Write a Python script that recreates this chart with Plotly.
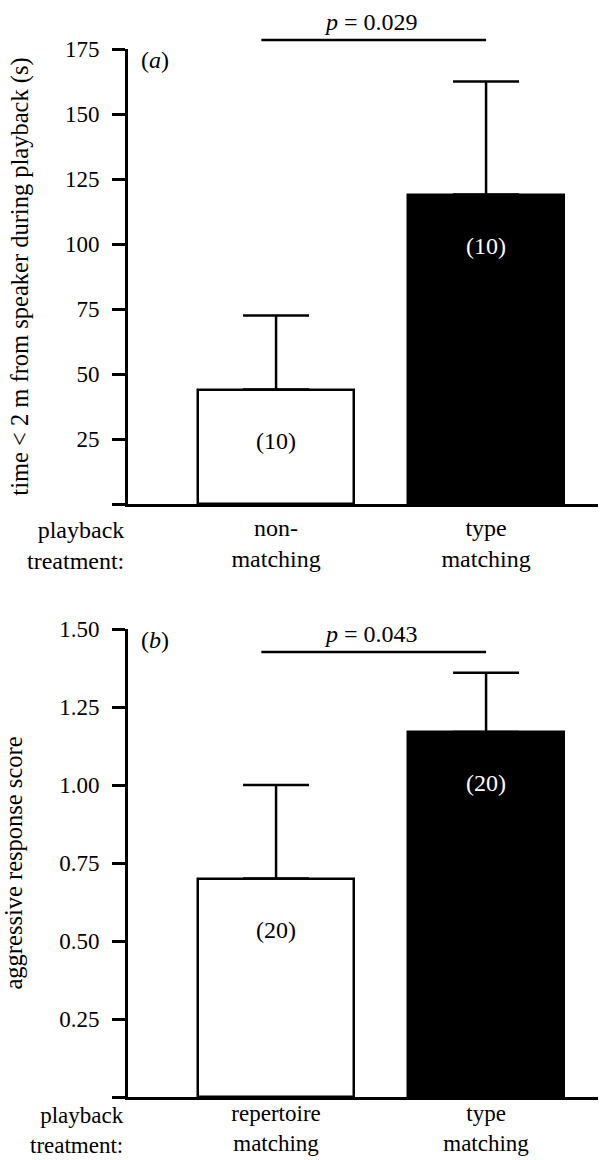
import plotly.graph_objects as go

# ---------------- data ----------------
cats_a = ["non-<br>matching", "type<br>matching"]
vals_a = [44, 119]
err_a = [28.5, 43.5]
n_a = ["(10)", "(10)"]
p_a = "<i>p</i> = 0.029"
ticks_a = [0, 25, 50, 75, 100, 125, 150, 175]
ticktext_a = ["", "25", "50", "75", "100", "125", "150", "175"]
ytitle_a = "time < 2 m from speaker during playback (s)"
sig_a = 178.5

cats_b = ["repertoire<br>matching", "type<br>matching"]
vals_b = [0.70, 1.17]
err_b = [0.30, 0.19]
n_b = ["(20)", "(20)"]
p_b = "<i>p</i> = 0.043"
ticks_b = [0, 0.25, 0.5, 0.75, 1.0, 1.25, 1.5]
ticktext_b = ["", "0.25", "0.50", "0.75", "1.00", "1.25", "1.50"]
ytitle_b = "aggressive response score"
sig_b = 1.426

fill_colors = ["white", "black"]
n_colors = ["black", "white"]

FONT = "Liberation Serif"
TXT = 24
TICK = 23
W, H = 605, 1160
xdom = [128 / W, 598 / W]
ydom_a = [1 - 504 / H, 1 - 49 / H]
ydom_b = [1 - 1097 / H, 1 - 629 / H]
yr_a = [0, 175]
yr_b = [0, 1.5]
xr = [-0.705, 1.533]


def ypaper(v, dom, rng):
    return dom[0] + (v - rng[0]) / (rng[1] - rng[0]) * (dom[1] - dom[0])


fig = go.Figure()

for xa, ya, vals, errs in [("x", "y", vals_a, err_a), ("x2", "y2", vals_b, err_b)]:
    fig.add_trace(go.Bar(
        x=[0, 1], y=vals, xaxis=xa, yaxis=ya, width=0.743,
        marker=dict(color=fill_colors, line=dict(color="black", width=2.5)),
        error_y=dict(type="data", array=errs, arrayminus=[0, 0], symmetric=False,
                     color="black", thickness=2.5, width=33),
        showlegend=False, hoverinfo="skip",
    ))

annotations = []
shapes = []
for xa, ya, vals, ns, p, sig, dom, rng, lab, ysh, fs in [
    ("x", "y", vals_a, n_a, p_a, sig_a, ydom_a, yr_a, "(<i>a</i>)", -11, TXT),
    ("x2", "y2", vals_b, n_b, p_b, sig_b, ydom_b, yr_b, "(<i>b</i>)", -4, 23),
]:
    for i, (v, t) in enumerate(zip(vals, ns)):
        annotations.append(dict(x=i, y=v, xref=xa, yref=ya, text=t, showarrow=False,
                                yshift=-51, yanchor="middle",
                                font=dict(family=FONT, size=TXT, color=n_colors[i])))
    yp = ypaper(sig, dom, rng)
    shapes.append(dict(type="line", xref=xa, yref="paper", x0=-0.07, x1=1.0, y0=yp, y1=yp,
                       line=dict(color="black", width=2.5)))
    annotations.append(dict(x=0.45, y=yp, xref=xa, yref="paper", text=p, showarrow=False,
                            yanchor="bottom", yshift=3,
                            font=dict(family=FONT, size=TXT, color="black")))
    annotations.append(dict(x=139 / W, y=dom[1], xref="paper", yref="paper", text=lab,
                            showarrow=False, xanchor="left", yanchor="top", yshift=4,
                            font=dict(family=FONT, size=TXT, color="black")))
    annotations.append(dict(x=126 / W, y=dom[0], xref="paper", yref="paper",
                            text="playback<br>treatment:", showarrow=False, align="right",
                            xanchor="right", yanchor="top", yshift=ysh,
                            font=dict(family=FONT, size=fs, color="black")))

xaxis_common = dict(range=xr, domain=xdom, showline=True, linecolor="black", linewidth=2.5,
                    ticks="", showgrid=False, zeroline=False, tickmode="array", tickvals=[0, 1],
                    tickfont=dict(family=FONT, size=TXT, color="black"), fixedrange=True,
                    automargin=False)
yaxis_common = dict(showline=True, linecolor="black", linewidth=3, ticks="outside", ticklen=13,
                    tickwidth=3, tickcolor="black", showgrid=False, zeroline=False,
                    tickmode="array", tickfont=dict(family=FONT, size=TICK, color="black"),
                    ticklabelstandoff=8, automargin=False, fixedrange=True,
                    title_font=dict(family=FONT, size=24.5, color="black"), title_standoff=30)

fig.update_layout(
    width=W, height=H, margin=dict(l=0, r=0, t=0, b=0),
    paper_bgcolor="white", plot_bgcolor="white",
    xaxis=dict(xaxis_common, anchor="y", ticktext=cats_a),
    yaxis=dict(yaxis_common, domain=ydom_a, range=yr_a, anchor="x", tickvals=ticks_a,
               ticktext=ticktext_a, title_text=ytitle_a),
    xaxis2=dict(xaxis_common, anchor="y2", ticktext=cats_b, ticklabelstandoff=-6,
                tickfont=dict(family=FONT, size=23, color="black")),
    yaxis2=dict(yaxis_common, domain=ydom_b, range=yr_b, anchor="x2", tickvals=ticks_b,
                ticktext=ticktext_b, title_text=ytitle_b),
    annotations=annotations, shapes=shapes,
    bargap=0,
)

fig.write_html("out.html", config={"displayModeBar": False},
               post_script="document.body.style.margin='0px';")
